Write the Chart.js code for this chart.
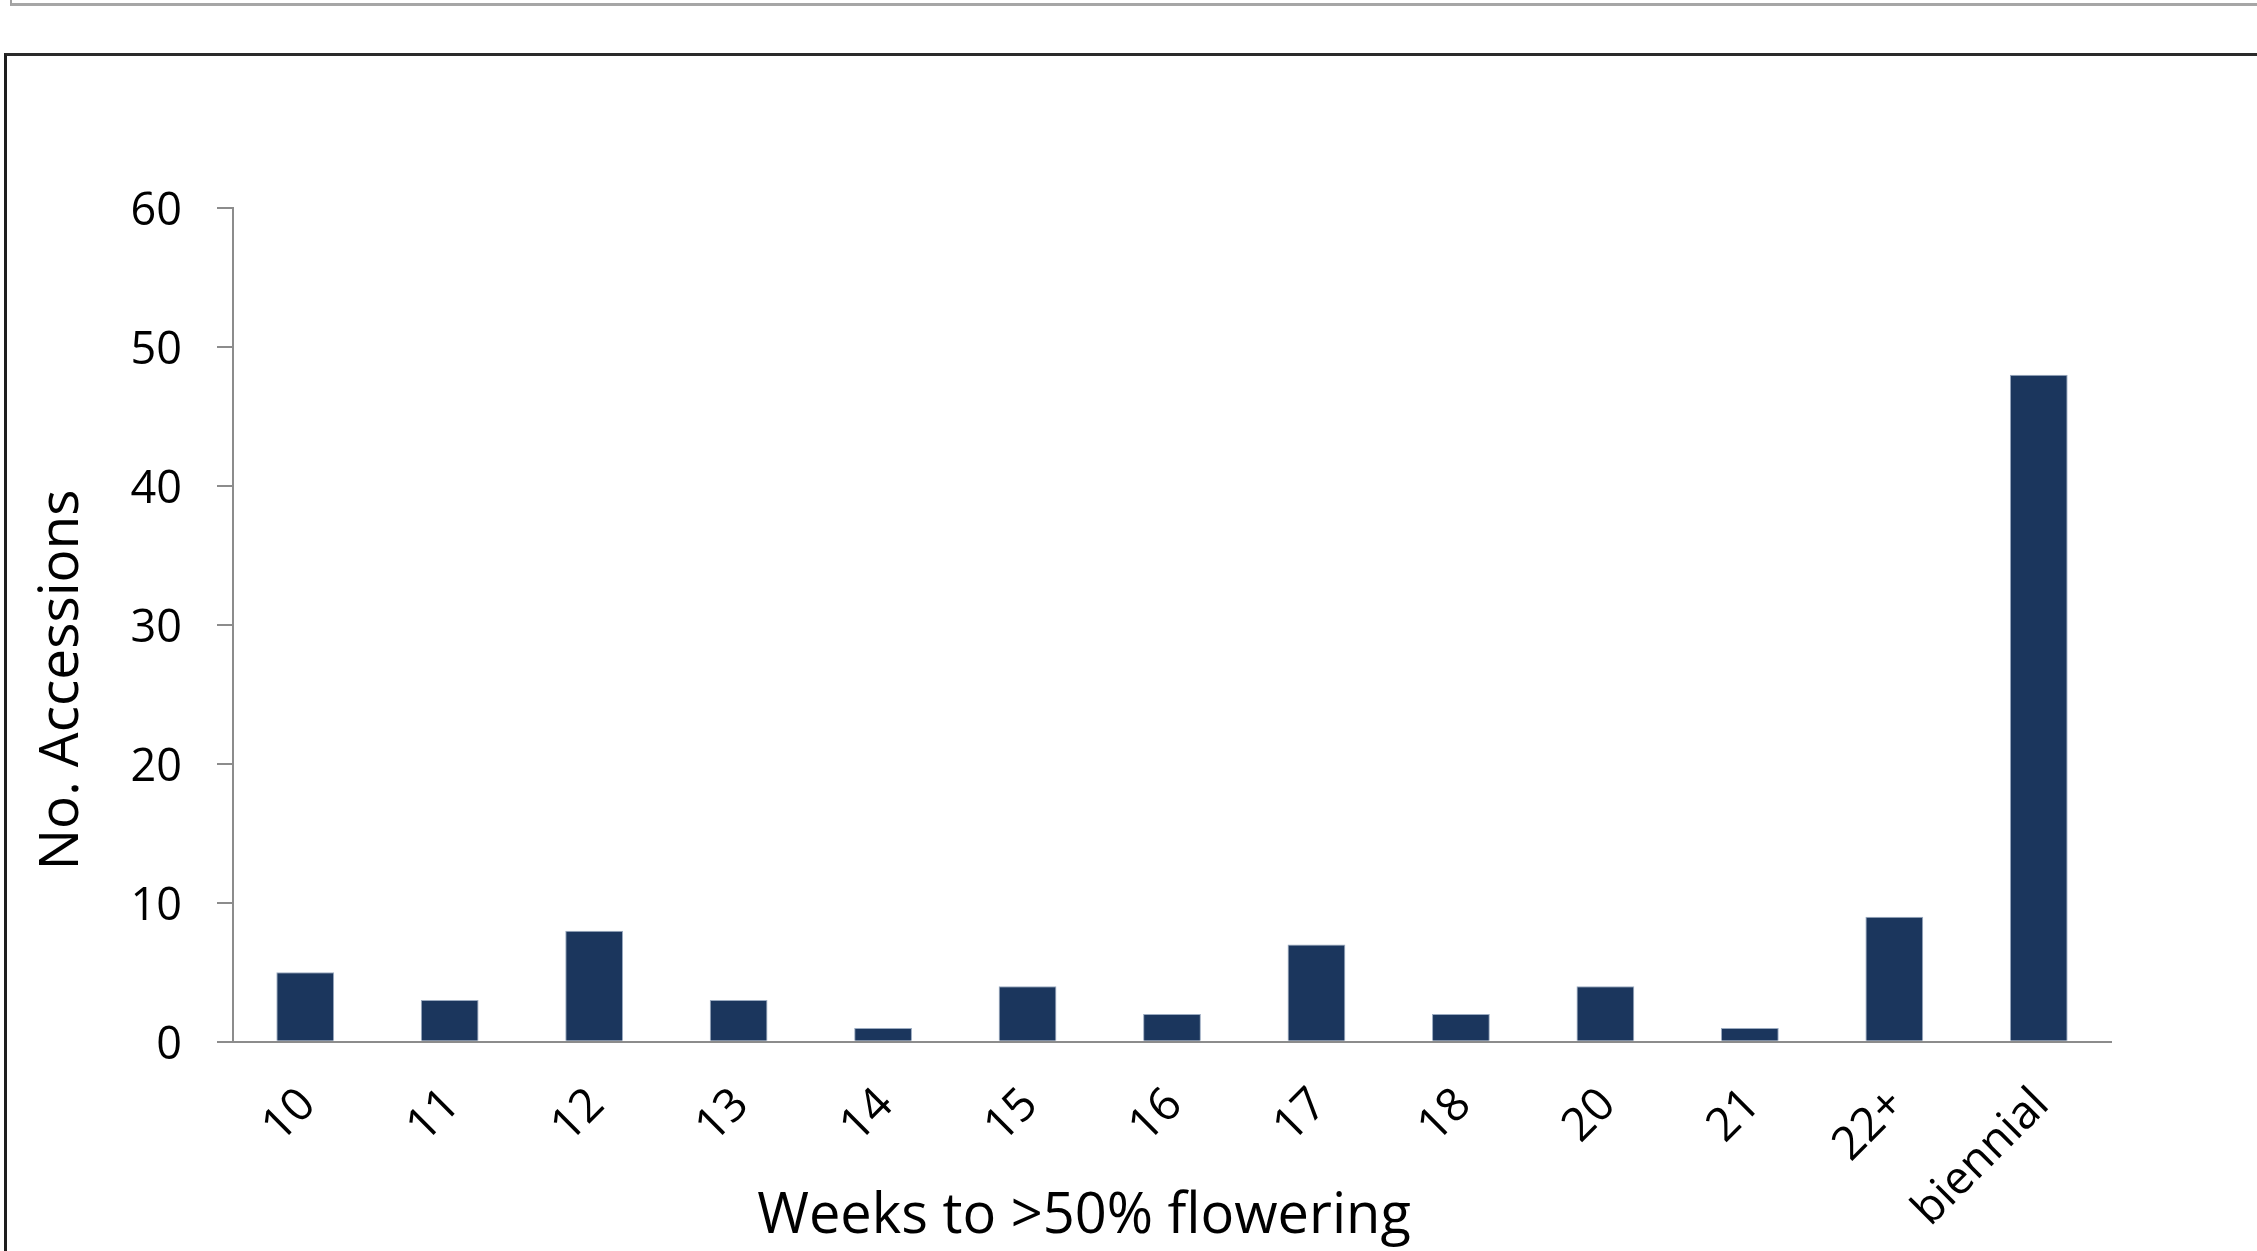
<!DOCTYPE html>
<html>
<head>
    <title>Weeks to >50% flowering</title>
    <script src="https://cdn.jsdelivr.net/npm/chart.js"></script>
    <style>
        body {
            margin: 0;
            background: #fff;
            overflow: hidden;
        }
        /* edge of the box above, cut off by the picture */
        #topBox {
            position: absolute;
            left: 10px;
            top: -10px;
            width: 2300px;
            height: 13px;
            border-left: 2px solid #a0a0a0;
            border-bottom: 3px solid #a6a6a6;
        }
        /* dark frame round the chart */
        #frame {
            position: absolute;
            left: 4px;
            top: 53px;
            width: 2300px;
            height: 1300px;
            border-left: 3px solid #1e1e1e;
            border-top: 3px solid #2a2a2a;
        }
        #flowerChart {
            position: absolute;
            left: 0;
            top: 0;
        }
    </style>
</head>
<body>
<div id="topBox"></div>
<div id="frame"></div>
<canvas id="flowerChart" width="2257" height="1251"></canvas>

<script>
    const weekLabels = ['10', '11', '12', '13', '14', '15', '16', '17', '18', '20', '21', '22+', 'biennial'];
    const accessionCounts = [5, 3, 8, 3, 1, 4, 2, 7, 2, 4, 1, 9, 48];
    const yMin = 0;
    const yMax = 60;
    const yStep = 10;
    const xTitle = 'Weeks to >50% flowering';
    const yTitle = 'No. Accessions';

    const fontFamily = "'Open Sans', sans-serif";
    Chart.defaults.font.family = fontFamily;
    Chart.defaults.color = '#000';

    // y title sits a bit lower than the axis middle, so draw it here
    const yTitlePlugin = {
        id: 'yTitle',
        afterDraw(chart) {
            const {ctx, chartArea} = chart;
            ctx.save();
            ctx.translate(62, (chartArea.top + chartArea.bottom) / 2 + 55);
            ctx.rotate(-Math.PI / 2);
            ctx.font = '55px ' + fontFamily;
            ctx.fillStyle = '#000';
            ctx.textAlign = 'center';
            ctx.textBaseline = 'middle';
            ctx.fillText(yTitle, 0, 0);
            ctx.restore();
        }
    };

    let ctx = document.getElementById('flowerChart').getContext('2d');

    let chart = new Chart(ctx, {
        type: 'bar',
        data: {
            labels: weekLabels,
            datasets: [{
                data: accessionCounts,
                backgroundColor: '#1b365d',
                borderColor: '#9aaac0',
                borderWidth: 1,
                barPercentage: 0.4,
                categoryPercentage: 1
            }]
        },
        options: {
            responsive: false,
            animation: false,
            layout: {
                padding: {left: 57, right: 146, top: 208, bottom: 0}
            },
            plugins: {
                legend: {display: false},
                tooltip: {enabled: false},
                title: {
                    // x axis title, centred like the original (not on the plot)
                    display: true,
                    position: 'bottom',
                    text: xTitle,
                    color: '#000',
                    font: {size: 56, weight: 'normal'},
                    padding: {top: -58, bottom: 0}
                }
            },
            scales: {
                x: {
                    grid: {display: false, drawTicks: false},
                    border: {color: '#8c8c8c', width: 2},
                    ticks: {
                        color: '#000',
                        font: {size: 46},
                        minRotation: 45,
                        maxRotation: 45,
                        autoSkip: false,
                        padding: 36,
                        labelOffset: 3
                    },
                    afterFit(scale) {
                        scale.height = 200;
                    }
                },
                y: {
                    min: yMin,
                    max: yMax,
                    ticks: {
                        stepSize: yStep,
                        color: '#000',
                        font: {size: 45},
                        padding: 35,
                        labelOffset: 4
                    },
                    grid: {
                        drawOnChartArea: false,
                        tickLength: 16,
                        color: '#8c8c8c',
                        lineWidth: 2
                    },
                    border: {color: '#8c8c8c', width: 2},
                    afterFit(scale) {
                        scale.width = 176;
                    }
                }
            }
        },
        plugins: [yTitlePlugin]
    });
</script>
</body>
</html>
